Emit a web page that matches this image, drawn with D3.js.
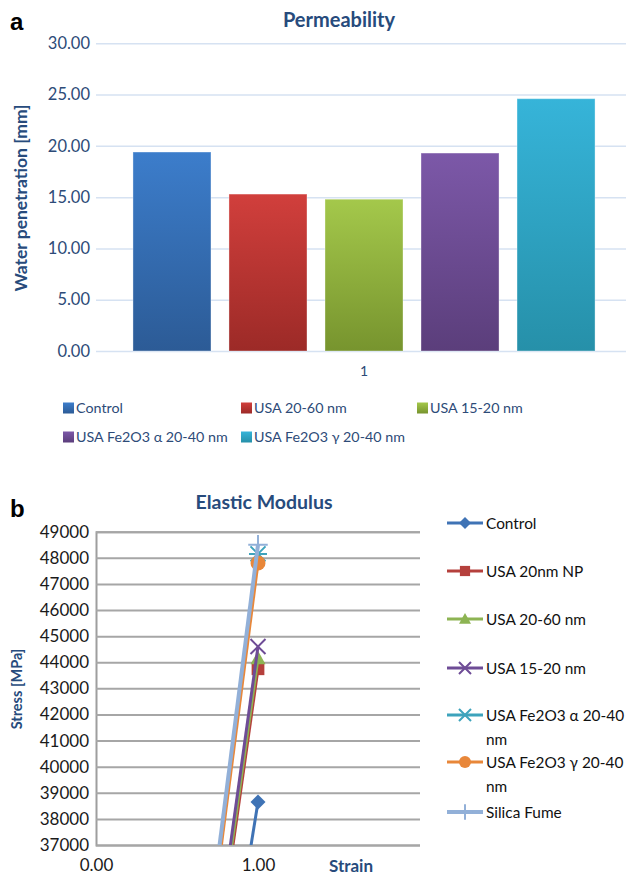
<!DOCTYPE html>
<html>
<head>
<meta charset="utf-8">
<script src="https://cdn.jsdelivr.net/npm/d3@7"></script>
<style>
  html, body { margin: 0; padding: 0; background: #fff; }
  svg { display: block; font-family: Lato, "Open Sans", sans-serif; }
</style>
</head>
<body>
<svg id="chart" width="626" height="876"></svg>
<script>
// ---------- Panel a data ----------
const permCategories = ["1"];
const permSeries = ["Control", "USA 20-60 nm", "USA 15-20 nm", "USA Fe2O3 α 20-40 nm", "USA Fe2O3 γ 20-40 nm"];
const permValues = [19.4, 15.3, 14.8, 19.3, 24.6];
const permTicks = [0, 5, 10, 15, 20, 25, 30];
const permColors = [
  ["#3C7DCB", "#2C5B96"],
  ["#D13F3C", "#9C2A27"],
  ["#A4C84B", "#77942E"],
  ["#7C58A8", "#5B3E7B"],
  ["#36B4D9", "#2690A9"]
];

// ---------- Panel b data ----------
const emSeries = ["Control", "USA 20nm NP", "USA 20-60 nm", "USA 15-20 nm", "USA Fe2O3 α 20-40 nm", "USA Fe2O3 γ 20-40 nm", "Silica Fume"];
const emStrain = [0, 1];
const emControl = [0, 38650];
const emUSA20NP = [0, 43750];
const emUSA2060 = [0, 44150];
const emUSA1520 = [0, 44600];
const emFeAlpha = [0, 48150];
const emFeGamma = [0, 47800];
const emSilica = [0, 48500];
const emValues = [emControl, emUSA20NP, emUSA2060, emUSA1520, emFeAlpha, emFeGamma, emSilica];
const emColors = ["#3F73B5", "#B5403C", "#8DB453", "#6E4C96", "#3DA3BC", "#E8873A", "#92B0D8"];
const emMarkers = ["diamond", "square", "triangle", "x", "asterisk", "circle", "cross"];
const emYTicks = [37000, 38000, 39000, 40000, 41000, 42000, 43000, 44000, 45000, 46000, 47000, 48000, 49000];
const emXTicks = [0, 1];

const svg = d3.select("#chart");
const titleBlue = "#274B7C";
const tickBlue = "#2D4B78";

// =================== Panel a ===================
svg.append("text").attr("x", 10).attr("y", 30).attr("font-family", "Arial, 'Liberation Sans', sans-serif")
  .attr("font-weight", "bold").attr("font-size", 24).attr("fill", "#000").text("a");

const aLeft = 96, aRight = 632, aTop = 43.3, aBottom = 351;
const yA = d3.scaleLinear().domain([0, 30]).range([aBottom, aTop]);
const x0 = d3.scaleBand().domain(permCategories).range([aLeft, aRight]).paddingInner(0).paddingOuter(0.08);
const x1 = d3.scaleBand().domain(permSeries).range([0, x0.bandwidth()]).paddingInner(0.1875).paddingOuter(0);

const defs = svg.append("defs");
permColors.forEach((c, i) => {
  const g = defs.append("linearGradient").attr("id", "grad" + i).attr("x1", 0).attr("y1", 0).attr("x2", 0).attr("y2", 1);
  g.append("stop").attr("offset", "0%").attr("stop-color", c[0]);
  g.append("stop").attr("offset", "100%").attr("stop-color", c[1]);
});

svg.append("text").attr("x", 339).attr("y", 27).attr("text-anchor", "middle")
  .attr("font-weight", "bold").attr("font-size", 20).attr("fill", titleBlue).text("Permeability");

const gyA = svg.append("g").attr("transform", `translate(${aLeft},0)`)
  .call(d3.axisLeft(yA).tickValues(permTicks).tickFormat(d3.format(".2f")).tickSize(-(626 - aLeft)).tickPadding(6));
gyA.select(".domain").remove();
gyA.selectAll(".tick line").attr("stroke", "#D6E2F2").attr("stroke-width", 1.5);
gyA.selectAll(".tick text").attr("font-family", "Lato, sans-serif").attr("font-size", 16.5).attr("fill", tickBlue);

svg.append("text").attr("transform", `translate(27,${198}) rotate(-90)`).attr("text-anchor", "middle")
  .attr("font-weight", "bold").attr("font-size", 17.5).attr("fill", titleBlue).text("Water penetration [mm]");

const grp = svg.append("g").selectAll("g").data(permCategories).join("g")
  .attr("transform", d => `translate(${x0(d)},0)`);
grp.selectAll("rect").data(permSeries.map((s, i) => ({ s, v: permValues[i], i }))).join("rect")
  .attr("x", d => x1(d.s)).attr("y", d => yA(d.v))
  .attr("width", x1.bandwidth()).attr("height", d => yA(0) - yA(d.v))
  .attr("fill", d => `url(#grad${d.i})`)
  .attr("stroke", "#FFFFFF").attr("stroke-opacity", 0.35).attr("stroke-width", 1);

const gxA = svg.append("g").attr("transform", `translate(0,${aBottom})`)
  .call(d3.axisBottom(x0).tickSize(0).tickPadding(15));
gxA.select(".domain").remove();
gxA.selectAll(".tick text").attr("font-family", "Lato, sans-serif").attr("font-size", 14).attr("fill", tickBlue);

const legA = [
  { x: 63, y: 408 }, { x: 241, y: 408 }, { x: 417, y: 408 },
  { x: 63, y: 437 }, { x: 241, y: 437 }
];
const legAG = svg.append("g").selectAll("g").data(permSeries).join("g")
  .attr("transform", (d, i) => `translate(${legA[i].x},${legA[i].y})`);
legAG.append("rect").attr("x", 0).attr("y", -5.5).attr("width", 11).attr("height", 11)
  .attr("fill", (d, i) => `url(#grad${i})`);
legAG.append("text").attr("x", 13).attr("y", 5).attr("font-size", 14.3).attr("fill", tickBlue).text(d => d);

// =================== Panel b ===================
svg.append("text").attr("x", 10).attr("y", 517).attr("font-family", "Arial, 'Liberation Sans', sans-serif")
  .attr("font-weight", "bold").attr("font-size", 24).attr("fill", "#000").text("b");

svg.append("text").attr("x", 264).attr("y", 509).attr("text-anchor", "middle")
  .attr("font-weight", "bold").attr("font-size", 19.5).attr("fill", titleBlue).text("Elastic Modulus");

const bLeft = 96, bRight = 420, bTop = 531.7, bBottom = 845;
const xB = d3.scaleLinear().domain([0, 2]).range([bLeft, bRight]);
const yB = d3.scaleLinear().domain([37000, 49000]).range([bBottom, bTop]);

const gyB = svg.append("g").attr("transform", `translate(${bLeft},0)`)
  .call(d3.axisLeft(yB).tickValues(emYTicks).tickFormat(d3.format("d")).tickSize(-(bRight - bLeft)).tickPadding(7));
gyB.select(".domain").attr("stroke", "#9E9E9E").attr("stroke-width", 2);
gyB.selectAll(".tick line").attr("stroke", "#A6A6A6").attr("stroke-width", 2);
gyB.selectAll(".tick text").attr("font-family", "Lato, sans-serif").attr("font-size", 17).attr("fill", "#1A1A1A");

const gxB = svg.append("g").attr("transform", `translate(0,${bBottom})`)
  .call(d3.axisBottom(xB).tickValues(emXTicks).tickFormat(d3.format(".2f")).tickSize(0).tickPadding(14));
gxB.select(".domain").remove();
gxB.selectAll(".tick text").attr("font-family", "Lato, sans-serif").attr("font-size", 17).attr("fill", "#1A1A1A");

svg.append("text").attr("x", 351).attr("y", 872).attr("text-anchor", "middle")
  .attr("font-weight", "bold").attr("font-size", 17).attr("fill", titleBlue).text("Strain");

svg.append("text").attr("transform", `translate(22,689) rotate(-90)`).attr("text-anchor", "middle")
  .attr("font-weight", "bold").attr("font-size", 14.5).attr("fill", titleBlue).text("Stress [MPa]");

defs.append("clipPath").attr("id", "plotB").append("rect")
  .attr("x", bLeft).attr("y", bTop - 20).attr("width", bRight - bLeft).attr("height", bBottom - bTop + 20);

function drawMarker(g, type, color, size) {
  const s = size;
  if (type === "diamond") {
    g.append("path").attr("d", `M0,${-s}L${s},0L0,${s}L${-s},0Z`).attr("fill", color);
  } else if (type === "square") {
    g.append("rect").attr("x", -s * 0.85).attr("y", -s * 0.85).attr("width", s * 1.7).attr("height", s * 1.7).attr("fill", color);
  } else if (type === "triangle") {
    g.append("path").attr("d", `M0,${-s}L${s},${s * 0.8}L${-s},${s * 0.8}Z`).attr("fill", color);
  } else if (type === "x") {
    g.append("path").attr("d", `M${-s},${-s}L${s},${s}M${-s},${s}L${s},${-s}`).attr("stroke", color).attr("stroke-width", 2);
  } else if (type === "asterisk") {
    g.append("path").attr("d", `M${-s},${-s}L${s},${s}M${-s},${s}L${s},${-s}M${-s * 1.2},0L${s * 1.2},0`).attr("stroke", color).attr("stroke-width", 2);
  } else if (type === "circle") {
    g.append("circle").attr("r", s).attr("fill", color);
  } else if (type === "cross") {
    g.append("path").attr("d", `M0,${-s * 1.3}L0,${s * 1.3}M${-s * 1.3},0L${s * 1.3},0`).attr("stroke", color).attr("stroke-width", 2);
  }
}

const line = d3.line().x(d => xB(d[0])).y(d => yB(d[1]));
const plotB = svg.append("g").attr("clip-path", "url(#plotB)");
emSeries.forEach((name, i) => {
  const pts = emStrain.map((x, j) => [x, emValues[i][j]]);
  plotB.append("path").datum(pts).attr("d", line).attr("fill", "none")
    .attr("stroke", emColors[i]).attr("stroke-width", name === "Silica Fume" ? 4 : 3);
  pts.forEach(p => {
    const g = plotB.append("g").attr("transform", `translate(${xB(p[0])},${yB(p[1])})`);
    drawMarker(g, emMarkers[i], emColors[i], 7.5);
  });
});

// Legend b
const legBY = [523, 571, 619, 668, 715, 762, 812];
const legBG = svg.append("g").selectAll("g").data(emSeries).join("g")
  .attr("transform", (d, i) => `translate(447,${legBY[i]})`);
legBG.each(function (d, i) {
  const g = d3.select(this);
  g.append("line").attr("x1", 0).attr("x2", 36).attr("y1", 0).attr("y2", 0)
    .attr("stroke", emColors[i]).attr("stroke-width", d === "Silica Fume" ? 4 : 3);
  const m = g.append("g").attr("transform", "translate(18,0)");
  drawMarker(m, emMarkers[i], emColors[i], 6);
  const words = d.endsWith(" 20-40 nm") ? [d.replace(/ nm$/, ""), "nm"] : [d];
  const t = g.append("text").attr("x", 39).attr("y", 5.5).attr("font-size", 15.4).attr("fill", "#111");
  words.forEach((w, k) => t.append("tspan").attr("x", 39).attr("dy", k === 0 ? 0 : 24).text(w));
});
</script>
</body>
</html>
